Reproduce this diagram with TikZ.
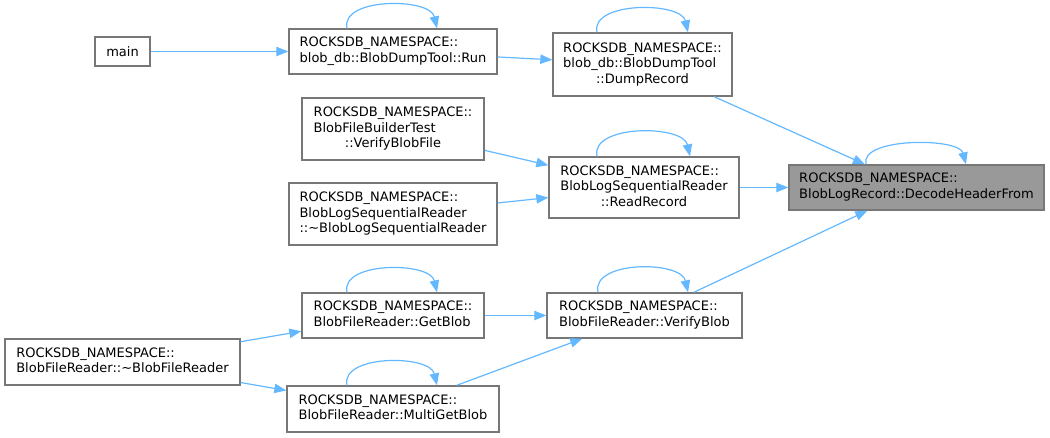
\documentclass[tikz,border=0pt]{standalone}
\usepackage{fontspec}
\setmainfont{DejaVu Sans}
\usetikzlibrary{arrows.meta,calc}
\definecolor{edgeblue}{HTML}{63B8FF}
\definecolor{boxborder}{HTML}{777777}
\definecolor{hlfill}{HTML}{999999}
\begin{document}
\begin{tikzpicture}[x=0.75pt,y=-0.75pt,
  box/.style={draw=boxborder, line width=1pt, fill=white, inner sep=0pt,
    font=\fontsize{9.75}{11.7}\selectfont, align=center},
  hl/.style={box, fill=hlfill},
  edge/.style={draw=edgeblue, line width=0.9pt, -{Triangle[length=9pt,width=7pt]}}]
\useasboundingbox (0,0) rectangle (1050,437);

\node[box, minimum width=41.25pt, minimum height=21.75pt] (main) at (122.5,51.5) {main};
\node[box, minimum width=156pt, minimum height=33.75pt] (run) at (393,51.5)
  {\begin{tabular}{@{}l@{}}ROCKSDB\_NAMESPACE::\\blob\_db::BlobDumpTool::Run\end{tabular}};
\node[box, minimum width=134.25pt, minimum height=47.25pt] (dump) at (642.5,64.5)
  {\begin{tabular}{@{}l@{}}ROCKSDB\_NAMESPACE::\\blob\_db::BlobDumpTool\\\multicolumn{1}{@{}c@{}}{::DumpRecord}\end{tabular}};
\node[hl, minimum width=191.25pt, minimum height=33.75pt] (decode) at (916.5,187.5)
  {\begin{tabular}{@{}l@{}}ROCKSDB\_NAMESPACE::\\BlobLogRecord::DecodeHeaderFrom\end{tabular}};
\node[box, minimum width=136.5pt, minimum height=46.5pt] (vbf) at (393,129)
  {\begin{tabular}{@{}l@{}}ROCKSDB\_NAMESPACE::\\BlobFileBuilderTest\\\multicolumn{1}{@{}c@{}}{::VerifyBlobFile}\end{tabular}};
\node[box, minimum width=156pt, minimum height=46.5pt] (dtorbls) at (393,214)
  {\begin{tabular}{@{}l@{}}ROCKSDB\_NAMESPACE::\\BlobLogSequentialReader\\::\textasciitilde BlobLogSequentialReader\end{tabular}};
\node[box, minimum width=142.5pt, minimum height=45.75pt] (readrec) at (644,187.5)
  {\begin{tabular}{@{}l@{}}ROCKSDB\_NAMESPACE::\\BlobLogSequentialReader\\\multicolumn{1}{@{}c@{}}{::ReadRecord}\end{tabular}};
\node[box, minimum width=136.5pt, minimum height=33.75pt] (getblob) at (393,315.5)
  {\begin{tabular}{@{}l@{}}ROCKSDB\_NAMESPACE::\\BlobFileReader::GetBlob\end{tabular}};
\node[box, minimum width=176.25pt, minimum height=34.5pt] (dtorbfr) at (122.5,362)
  {\begin{tabular}{@{}l@{}}ROCKSDB\_NAMESPACE::\\BlobFileReader::\textasciitilde BlobFileReader\end{tabular}};
\node[box, minimum width=159pt, minimum height=34.5pt] (multiget) at (393,409)
  {\begin{tabular}{@{}l@{}}ROCKSDB\_NAMESPACE::\\BlobFileReader::MultiGetBlob\end{tabular}};
\node[box, minimum width=146.25pt, minimum height=33.75pt] (verifyblob) at (644.5,315.5)
  {\begin{tabular}{@{}l@{}}ROCKSDB\_NAMESPACE::\\BlobFileReader::VerifyBlob\end{tabular}};

% connectors
\draw[edge] (main) -- (run);
\draw[edge] (run) -- (dump);
\draw[edge] (dump) -- (decode);
\draw[edge] (readrec) -- (decode);
\draw[edge] (verifyblob) -- (decode);
\draw[edge] (vbf) -- (readrec);
\draw[edge] (dtorbls) -- (readrec);
\draw[edge] (getblob) -- (verifyblob);
\draw[edge] (multiget) -- (verifyblob);
\draw[edge] (dtorbfr) -- (getblob);
\draw[edge] (dtorbfr) -- (multiget);

% self loops
\draw[edge] ($(run.north)+(-46,0)$) .. controls +(-7,-31) and +(-7,-31) .. ($(run.north)+(44,0)$);
\draw[edge] ($(dump.north)+(-45.5,0)$) .. controls +(-7,-31) and +(-7,-31) .. ($(dump.north)+(45.5,0)$);
\draw[edge] ($(decode.north)+(-50.5,0)$) .. controls +(-7,-27) and +(-7,-27) .. ($(decode.north)+(49.5,0)$);
\draw[edge] ($(readrec.north)+(-47,0)$) .. controls +(-7,-32) and +(-7,-32) .. ($(readrec.north)+(46,0)$);
\draw[edge] ($(getblob.north)+(-46,0)$) .. controls +(-7,-31) and +(-7,-31) .. ($(getblob.north)+(44,0)$);
\draw[edge] ($(multiget.north)+(-46,0)$) .. controls +(-7,-31) and +(-7,-31) .. ($(multiget.north)+(44,0)$);
\draw[edge] ($(verifyblob.north)+(-46.5,0)$) .. controls +(-7,-32) and +(-7,-32) .. ($(verifyblob.north)+(43.5,0)$);
\end{tikzpicture}
\end{document}
